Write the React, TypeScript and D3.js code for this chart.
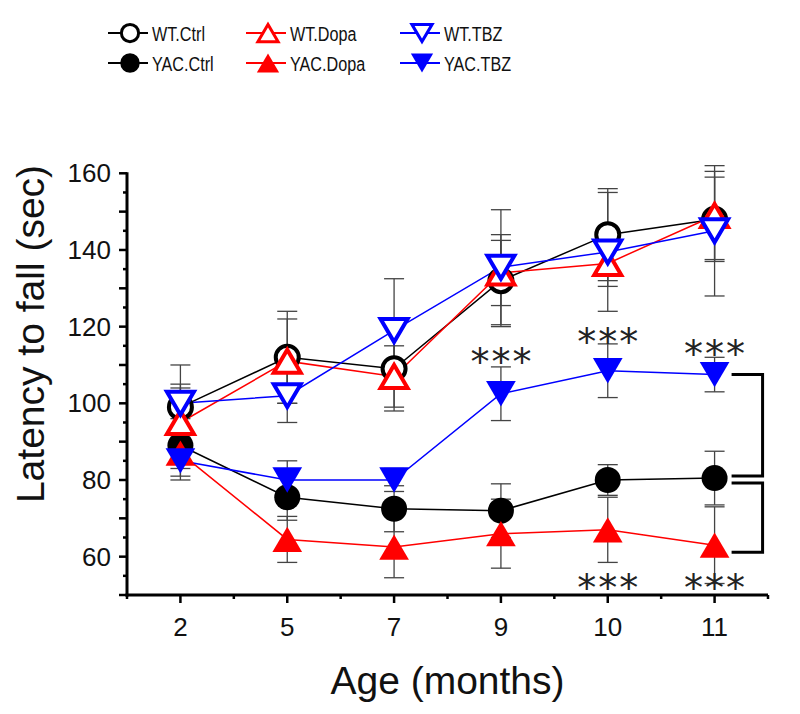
import React, { useEffect, useRef } from 'react'
import { select, scaleLinear, scalePoint, line, range } from 'd3'

// ages (months) on the x axis
const ages = ['2', '5', '7', '9', '10', '11']

const wtCtrl = [99, 112, 109, 132, 144, 148]
const wtCtrlErr = [11, 12, 11, 12, 12, 11]
const yacCtrl = [89, 75.5, 72.5, 72, 80, 80.5]
const yacCtrlErr = [8, 6, 6, 7, 4, 7]
const wtDopa = [95, 111, 107, 134, 136.5, 149]
const wtDopaErr = [10, 11, 8, 8.5, 6, 11.5]
const yacDopa = [87, 64.5, 62.5, 66, 67, 63]
const yacDopaErr = [4, 6, 8, 9, 8.5, 10]
const wtTbz = [100, 102, 119, 135.5, 139.5, 145]
const wtTbzErr = [4, 7, 13.5, 15, 15.5, 17]
const yacTbz = [85, 80, 80, 102.5, 108.5, 107.5]
const yacTbzErr = [5, 5, 3, 7, 7, 4.5]

const yTicks = [60, 80, 100, 120, 140, 160]

// significance marks (age, height of the *** in sec)
const sigAges = ['9', '10', '11', '10', '11']
const sigValues = [113.5, 118.5, 115.5, 54.5, 54.5]

const series = [
  { name: 'WT.Ctrl', values: wtCtrl, err: wtCtrlErr, color: '#000', shape: 'circle', filled: false },
  { name: 'YAC.Ctrl', values: yacCtrl, err: yacCtrlErr, color: '#000', shape: 'circle', filled: true },
  { name: 'WT.Dopa', values: wtDopa, err: wtDopaErr, color: '#f00', shape: 'up', filled: false },
  { name: 'YAC.Dopa', values: yacDopa, err: yacDopaErr, color: '#f00', shape: 'up', filled: true },
  { name: 'WT.TBZ', values: wtTbz, err: wtTbzErr, color: '#00f', shape: 'down', filled: false },
  { name: 'YAC.TBZ', values: yacTbz, err: yacTbzErr, color: '#00f', shape: 'down', filled: true },
]

const W = 800
const H = 714
const font = 'Liberation Sans, Arial, sans-serif'

function markerPath(shape, s) {
  // s = scale factor, triangles centred on their bounding box
  const w = 27 * s
  const h = 23 * s
  if (shape === 'up') return `M${-w / 2},${h / 2}L${w / 2},${h / 2}L0,${-h / 2}Z`
  return `M${-w / 2},${-h / 2}L${w / 2},${-h / 2}L0,${h / 2}Z`
}

function drawMarker(g, d, cx, cy, s) {
  const sw = d.filled ? 0 : 4 * s
  if (d.shape === 'circle') {
    g.append('circle')
      .attr('cx', cx).attr('cy', cy)
      .attr('r', (d.filled ? 13 : 11.5) * s)
      .attr('fill', d.filled ? d.color : '#fff')
      .attr('stroke', d.color)
      .attr('stroke-width', sw)
  } else {
    g.append('path')
      .attr('transform', `translate(${cx},${cy})`)
      .attr('d', markerPath(d.shape, d.filled ? 1.1 * s : s))
      .attr('fill', d.filled ? d.color : '#fff')
      .attr('stroke', d.color)
      .attr('stroke-width', sw)
  }
}

function Chart() {
  const svgRef = useRef(null)

  useEffect(() => {
    const svg = select(svgRef.current)
    svg.selectAll('*').remove()

    const x = scalePoint().domain(ages).range([127, 768]).padding(0.5)
    const y = scaleLinear().domain([50, 160]).range([595, 173.3])
    const step = x.step()
    const x0 = 127
    const x1 = 768
    const y0 = y(50)

    // series lines
    const lineGen = line().x((v, i) => x(ages[i])).y(v => y(v))
    series.forEach(d => {
      svg.append('path')
        .attr('d', lineGen(d.values))
        .attr('fill', 'none')
        .attr('stroke', d.color)
        .attr('stroke-width', 1.5)
    })

    // error bars
    series.forEach(d => {
      d.values.forEach((v, i) => {
        const cx = x(ages[i])
        const lo = y(v - d.err[i])
        const hi = y(v + d.err[i])
        svg.append('line').attr('x1', cx).attr('x2', cx).attr('y1', lo).attr('y2', hi)
          .attr('stroke', '#444').attr('stroke-width', 1.3)
        ;[lo, hi].forEach(yy => {
          svg.append('line').attr('x1', cx - 10).attr('x2', cx + 10).attr('y1', yy).attr('y2', yy)
            .attr('stroke', '#444').attr('stroke-width', 1.3)
        })
      })
    })

    // markers: ctrl, then dopa, then tbz on top
    series.forEach(d => {
      d.values.forEach((v, i) => drawMarker(svg, d, x(ages[i]), y(v), 1))
    })

    // significance brackets at 11 months
    const bx = x('11')
    const bracket = (ya, yb) => {
      svg.append('path')
        .attr('d', `M${bx + 17},${ya}H${bx + 48}V${yb}H${bx + 17}`)
        .attr('fill', 'none').attr('stroke', '#000').attr('stroke-width', 3)
    }
    bracket(y(yacTbz[5]), y(yacCtrl[5]) - 2)
    bracket(y(yacCtrl[5]) + 5, y(yacDopa[5]) + 7)

    // asterisks
    sigAges.forEach((a, i) => {
      svg.append('text')
        .attr('x', x(a) + 1)
        .attr('y', y(sigValues[i]) + 23)
        .attr('text-anchor', 'middle')
        .attr('font-family', 'DejaVu Sans, sans-serif')
        .attr('font-size', 38)
        .attr('letter-spacing', 2)
        .attr('fill', '#222')
        .text('***')
    })

    // axes
    const axis = svg.append('g').attr('stroke', '#000')
    axis.append('line').attr('x1', x0).attr('x2', x0).attr('y1', y(160) - 1).attr('y2', y0 + 1.5)
      .attr('stroke-width', 3)
    axis.append('line').attr('x1', x0 - 1.5).attr('x2', x1).attr('y1', y0).attr('y2', y0)
      .attr('stroke-width', 3)
    range(50, 161, 5).forEach(v => {
      const major = v % 10 === 0
      axis.append('line').attr('x1', x0 - (major ? 8 : 4)).attr('x2', x0).attr('y1', y(v)).attr('y2', y(v))
        .attr('stroke-width', 2.5)
    })
    ages.forEach(a => {
      axis.append('line').attr('x1', x(a)).attr('x2', x(a)).attr('y1', y0).attr('y2', y0 + 8)
        .attr('stroke-width', 2.5)
    })
    range(0, ages.length + 1).forEach(k => {
      const xx = x0 + k * step
      axis.append('line').attr('x1', xx).attr('x2', xx).attr('y1', y0).attr('y2', y0 + 4)
        .attr('stroke-width', 2.5)
    })

    const labels = svg.append('g').attr('font-family', font).attr('fill', '#111')
    yTicks.forEach(v => {
      labels.append('text').attr('x', 111).attr('y', y(v)).attr('dy', '0.35em')
        .attr('text-anchor', 'end').attr('font-size', 26).text(v)
    })
    ages.forEach(a => {
      labels.append('text').attr('x', x(a)).attr('y', 636)
        .attr('text-anchor', 'middle').attr('font-size', 26).text(a)
    })
    labels.append('text').attr('x', (x0 + x1) / 2).attr('y', 694)
      .attr('text-anchor', 'middle').attr('font-size', 39).text('Age (months)')
    labels.append('text').attr('transform', `translate(44,334) rotate(-90)`)
      .attr('text-anchor', 'middle').attr('font-size', 39).text('Latency to fall (sec)')

    // legend, 3 columns x 2 rows
    const legX = [130, 268, 422]
    const legY = [33, 63]
    series.forEach((d, i) => {
      const cx = legX[Math.floor(i / 2)]
      const cy = legY[i % 2]
      svg.append('line').attr('x1', cx - 22).attr('x2', cx + 18).attr('y1', cy).attr('y2', cy)
        .attr('stroke', d.color).attr('stroke-width', 2)
      drawMarker(svg, d, cx, cy, 0.75)
      svg.append('text')
        .attr('transform', `translate(${cx + 22},${cy + 7.5}) scale(0.77,1)`)
        .attr('font-family', font).attr('font-size', 21).attr('fill', '#111')
        .text(d.name)
    })
  }, [])

  return <svg ref={svgRef} width={W} height={H} style={{ display: 'block' }} />
}

export default function App() {
  return (
    <div style={{ margin: -8 }}>
      <Chart />
    </div>
  )
}
